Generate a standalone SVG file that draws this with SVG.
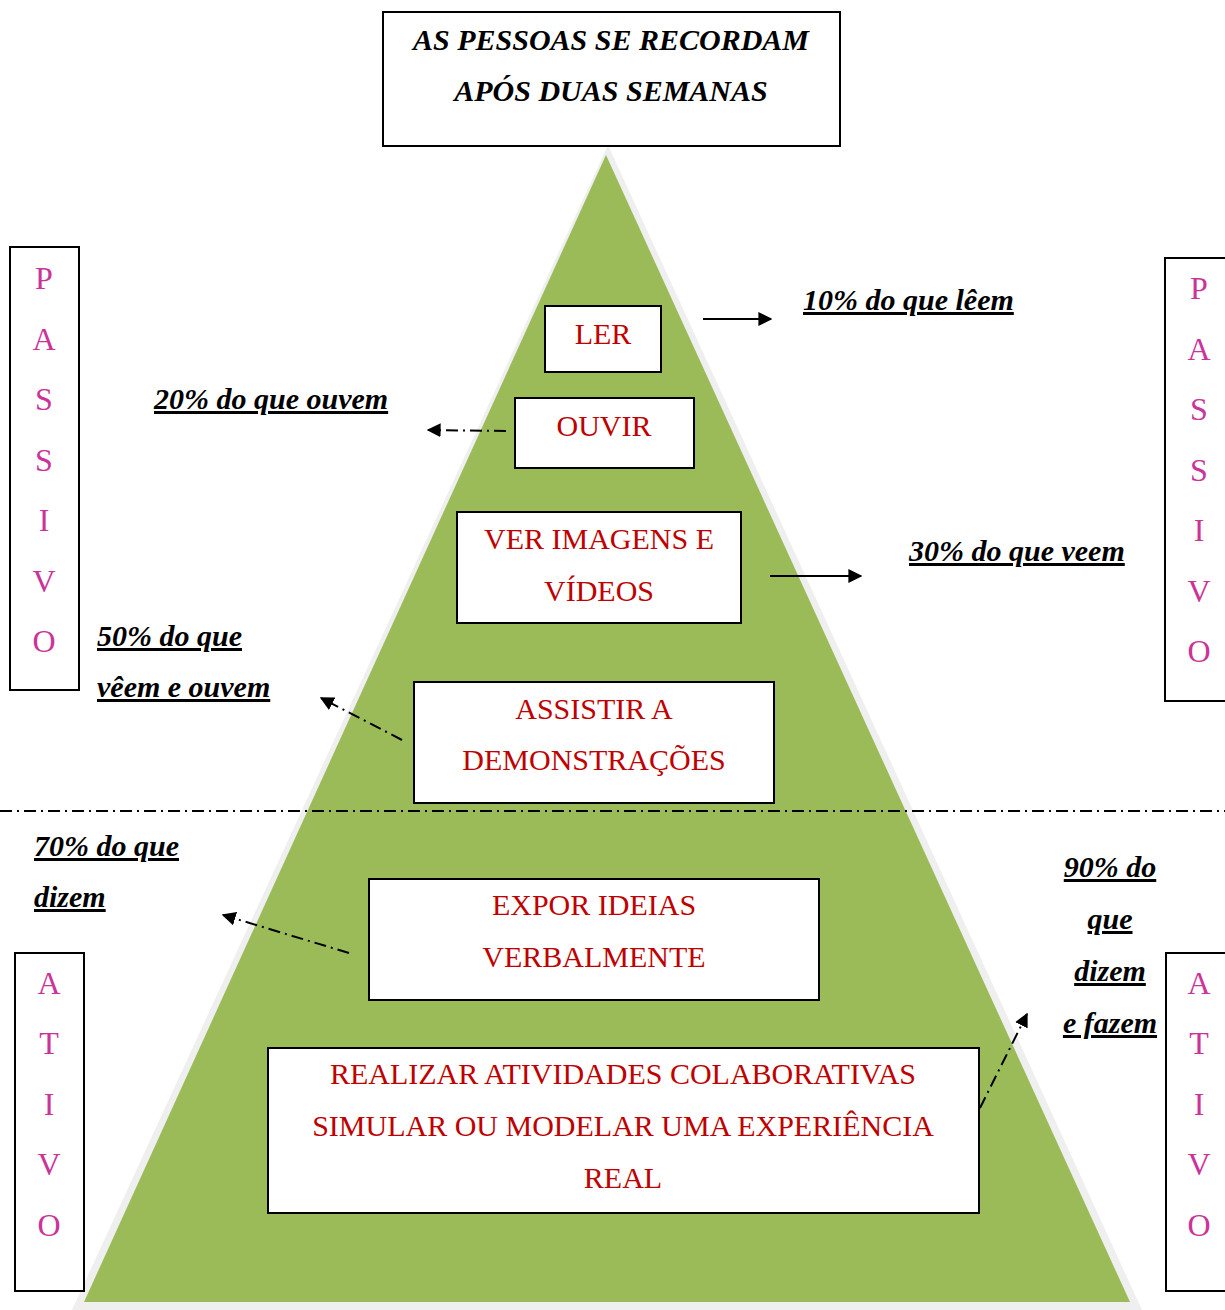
<svg xmlns="http://www.w3.org/2000/svg" width="1225" height="1310" viewBox="0 0 1225 1310">
<defs>
<style>
.box{fill:#fff;stroke:#000;stroke-width:2}
.title{font-family:"Liberation Serif",serif;font-weight:bold;font-style:italic;font-size:30px;fill:#000;text-anchor:middle}
.red{font-family:"Liberation Serif",serif;font-size:30px;fill:#c00000;text-anchor:middle}
.lbl{font-family:"Liberation Serif",serif;font-weight:bold;font-style:italic;font-size:30px;fill:#000;text-decoration:underline}
.mag{font-family:"Liberation Serif",serif;font-size:32px;fill:#cc3399;text-anchor:middle}
.solid{stroke:#000;stroke-width:2;fill:none}
.dd{stroke:#000;stroke-width:2;fill:none;stroke-dasharray:12,5,2,5}
</style>
<marker id="ah2" viewBox="0 0 10 10" refX="9" refY="5" markerWidth="14" markerHeight="14" markerUnits="userSpaceOnUse" orient="auto"><path d="M0,0 L10,5 L0,10 z" fill="#000"/></marker>
</defs>
<rect width="1225" height="1310" fill="#fff"/>
<g id="pyramid">
<polygon points="608,145 72,1310 1142,1310" fill="#efefef"/>
<polygon points="606,155 84,1302 1130,1302" fill="#9bbb59"/>
</g>
<g id="title"><rect class="box" x="383" y="12" width="457" height="134"/>
<text class="title" x="611" y="50">AS PESSOAS SE RECORDAM</text>
<text class="title" x="611" y="101">APÓS DUAS SEMANAS</text></g>
<g id="ler"><rect class="box" x="545" y="306" width="116" height="66"/><text class="red" x="603" y="344">LER</text></g>
<g id="ouvir"><rect class="box" x="515" y="398" width="179" height="70"/><text class="red" x="604" y="436">OUVIR</text></g>
<g id="ver"><rect class="box" x="457" y="512" width="284" height="111"/><text class="red" x="599" y="549">VER IMAGENS E</text><text class="red" x="599" y="601">VÍDEOS</text></g>
<g id="assistir"><rect class="box" x="414" y="682" width="360" height="121"/><text class="red" x="594" y="719">ASSISTIR A</text><text class="red" x="594" y="770">DEMONSTRAÇÕES</text></g>
<g id="expor"><rect class="box" x="369" y="879" width="450" height="121"/><text class="red" x="594" y="915">EXPOR IDEIAS</text><text class="red" x="594" y="967">VERBALMENTE</text></g>
<g id="realizar"><rect class="box" x="268" y="1048" width="711" height="165"/><text class="red" x="623" y="1084">REALIZAR ATIVIDADES COLABORATIVAS</text><text class="red" x="623" y="1136">SIMULAR OU MODELAR UMA EXPERIÊNCIA</text><text class="red" x="623" y="1188">REAL</text></g>
<g id="passivo-left"><rect class="box" x="10" y="247" width="69" height="443"/>
<text class="mag" x="44" y="289">P</text><text class="mag" x="44" y="350">A</text><text class="mag" x="44" y="410">S</text><text class="mag" x="44" y="471">S</text><text class="mag" x="44" y="531">I</text><text class="mag" x="44" y="592">V</text><text class="mag" x="44" y="652">O</text></g>
<g id="passivo-right"><rect class="box" x="1165" y="258" width="70" height="443"/>
<text class="mag" x="1199" y="299">P</text><text class="mag" x="1199" y="360">A</text><text class="mag" x="1199" y="420">S</text><text class="mag" x="1199" y="481">S</text><text class="mag" x="1199" y="541">I</text><text class="mag" x="1199" y="602">V</text><text class="mag" x="1199" y="662">O</text></g>
<g id="ativo-left"><rect class="box" x="15" y="953" width="69" height="338"/>
<text class="mag" x="49" y="994">A</text><text class="mag" x="49" y="1054">T</text><text class="mag" x="49" y="1115">I</text><text class="mag" x="49" y="1175">V</text><text class="mag" x="49" y="1236">O</text></g>
<g id="ativo-right"><rect class="box" x="1166" y="953" width="70" height="338"/>
<text class="mag" x="1199" y="994">A</text><text class="mag" x="1199" y="1054">T</text><text class="mag" x="1199" y="1115">I</text><text class="mag" x="1199" y="1175">V</text><text class="mag" x="1199" y="1236">O</text></g>
<g id="labels">
<text class="lbl" x="803" y="310">10% do que lêem</text>
<text class="lbl" x="154" y="409">20% do que ouvem</text>
<text class="lbl" x="909" y="561">30% do que veem</text>
<text class="lbl" x="97" y="646">50% do que</text>
<text class="lbl" x="97" y="697">vêem e ouvem</text>
<text class="lbl" x="34" y="856">70% do que</text>
<text class="lbl" x="34" y="907">dizem</text>
<text class="lbl" x="1110" y="877" text-anchor="middle">90% do</text>
<text class="lbl" x="1110" y="929" text-anchor="middle">que</text>
<text class="lbl" x="1110" y="981" text-anchor="middle">dizem</text>
<text class="lbl" x="1110" y="1033" text-anchor="middle">e fazem</text>
</g>
<g id="connectors">
<line class="solid" x1="703" y1="319" x2="771" y2="319" marker-end="url(#ah2)"/>
<line class="dd" x1="506" y1="431" x2="428" y2="430" marker-end="url(#ah2)"/>
<line class="solid" x1="770" y1="576" x2="861" y2="576" marker-end="url(#ah2)"/>
<line class="dd" x1="402" y1="740" x2="321" y2="698" marker-end="url(#ah2)"/>
<line class="dd" x1="349" y1="953" x2="223" y2="915" marker-end="url(#ah2)"/>
<line class="dd" x1="980" y1="1108" x2="1027" y2="1014" marker-end="url(#ah2)"/>
<line class="dd" x1="0" y1="811" x2="1225" y2="811"/>
</g>
</svg>
